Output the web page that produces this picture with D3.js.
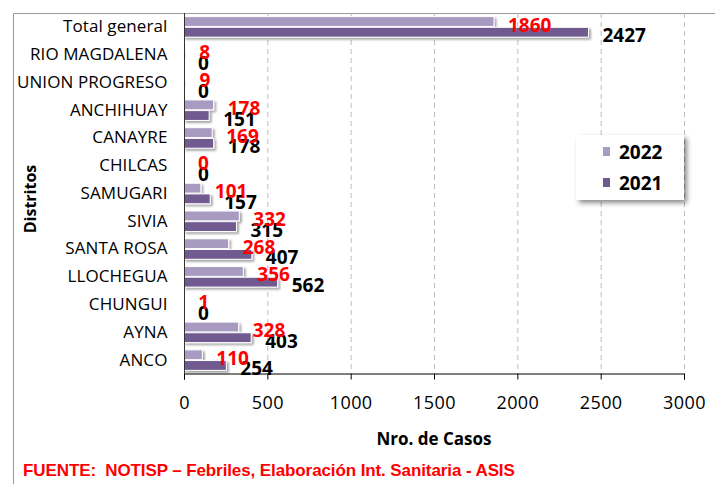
<!DOCTYPE html>
<html><head><meta charset="utf-8">
<script src="https://cdnjs.cloudflare.com/ajax/libs/d3/7.8.5/d3.min.js"></script>
<style>body{margin:0;background:#fff}svg{display:block}</style>
</head><body>
<script>
const categories = ["Total general","RIO MAGDALENA","UNION PROGRESO","ANCHIHUAY","CANAYRE","CHILCAS","SAMUGARI","SIVIA","SANTA ROSA","LLOCHEGUA","CHUNGUI","AYNA","ANCO"];
const values2022 = [1860,8,9,178,169,0,101,332,268,356,1,328,110];
const values2021 = [2427,0,0,151,178,0,157,315,407,562,0,403,254];
const seriesNames = ["2022","2021"];
const xTicks = [0,500,1000,1500,2000,2500,3000];
const xTitle = "Nro. de Casos";
const yTitle = "Distritos";
const footer = "FUENTE:  NOTISP \u2013 Febriles, Elaboración Int. Sanitaria - ASIS";

const W = 715, H = 484;
const colors = {"2022":"#A89AC1","2021":"#6F5A8F"};
const labelColors = {"2022":"#FF0000","2021":"#000000"};
const svg = d3.select("body").append("svg").attr("width",W).attr("height",H);

const defs = svg.append("defs");
const f = defs.append("filter").attr("id","sh").attr("x","-20%").attr("y","-50%").attr("width","140%").attr("height","200%");
f.append("feDropShadow").attr("dx",2).attr("dy",2).attr("stdDeviation",1.2).attr("flood-color","#000").attr("flood-opacity",0.35);
const f2 = defs.append("filter").attr("id","sh2").attr("x","-20%").attr("y","-20%").attr("width","150%").attr("height","150%");
f2.append("feDropShadow").attr("dx",3).attr("dy",3).attr("stdDeviation",2.5).attr("flood-color","#000").attr("flood-opacity",0.45);

// outer frame
svg.append("path").attr("d",`M13.5,${H} V13.5 H${W}`).attr("fill","none").attr("stroke","#9a9a9a").attr("stroke-width",1);

const x = d3.scaleLinear().domain([0,3000]).range([184,684]);
const y = d3.scaleBand().domain(categories).range([13,374]).paddingInner(0.2).paddingOuter(0.1);
const ys = d3.scaleBand().domain(seriesNames).range([0,y.bandwidth()]).padding(0.08);

// gridlines
svg.append("g").selectAll("line").data(xTicks.slice(1)).join("line")
  .attr("x1",d=>x(d)+0.5).attr("x2",d=>x(d)+0.5).attr("y1",13).attr("y2",373)
  .attr("stroke","#BDBDBD").attr("stroke-width",1).attr("stroke-dasharray","5,4");

const rows = categories.map((c,i)=>({c, v:{"2022":values2022[i],"2021":values2021[i]}}));

// bars
const gb = svg.append("g");
seriesNames.forEach(s=>{
  gb.selectAll(null).data(rows).join("rect")
    .attr("x",x(0)).attr("y",d=>y(d.c)+ys(s))
    .attr("width",d=>Math.max(0,x(d.v[s])-x(0))).attr("height",ys.bandwidth())
    .attr("fill",colors[s]).attr("stroke","#fff").attr("stroke-width",1)
    .attr("filter","url(#sh)");
});

// axes
const xAxis = d3.axisBottom(x).tickValues(xTicks).tickSize(6).tickPadding(17).tickFormat(d3.format("d"));
const gx = svg.append("g").attr("transform","translate(0,373.5)").call(xAxis);
gx.select(".domain").attr("stroke","#000");
gx.selectAll(".tick line").attr("stroke","#000");
gx.selectAll("text").attr("font-family","'Open Sans'").attr("font-size",18).attr("letter-spacing",0.4).attr("fill","#000");

const yAxis = d3.axisLeft(y).tickSize(0).tickPadding(17);
const gy = svg.append("g").attr("transform","translate(184.5,0)").call(yAxis);
gy.select(".domain").attr("stroke","#333").attr("d","M0,13V374");
gy.selectAll("text").attr("font-family","'Open Sans'").attr("font-size",17).attr("letter-spacing",0.1).attr("fill","#000");

// data labels
const gl = svg.append("g").attr("font-family","'Open Sans'").attr("font-weight","bold").attr("font-size",19);
["2021","2022"].forEach(s=>{
  gl.selectAll(null).data(rows).join("text")
    .attr("x",d=>x(d.v[s])+14)
    .attr("y",d=>y(d.c)+ys(s)+ys.bandwidth()/2+3)
    .attr("dominant-baseline","central")
    .attr("fill",labelColors[s]).text(d=>d.v[s]);
});

// titles
svg.append("text").attr("x",434).attr("y",438).attr("text-anchor","middle").attr("dominant-baseline","central")
  .attr("font-family","'Open Sans'").attr("font-weight","bold").attr("font-size",17).text(xTitle);
svg.append("text").attr("transform","translate(30,199) rotate(-90)").attr("text-anchor","middle").attr("dominant-baseline","central")
  .attr("font-family","'Open Sans'").attr("font-weight","bold").attr("font-size",16).text(yTitle);

// legend
const lg = svg.append("g");
lg.append("rect").attr("x",576).attr("y",135).attr("width",108).attr("height",65).attr("fill","#fff").attr("filter","url(#sh2)");
seriesNames.forEach((s,i)=>{
  const cy = 152 + i*31;
  lg.append("rect").attr("x",603).attr("y",cy-5).attr("width",7).attr("height",9).attr("fill",colors[s]);
  lg.append("text").attr("x",619).attr("y",cy).attr("dominant-baseline","central")
    .attr("font-family","'Open Sans'").attr("font-weight","bold").attr("font-size",19).text(s);
});

// footer
svg.append("text").attr("x",23).attr("y",470).attr("dominant-baseline","central")
  .attr("font-family","'Liberation Sans'").attr("font-weight","bold").attr("font-size",17).attr("fill","#FF0000")
  .attr("letter-spacing",-0.1).style("white-space","pre").text(footer);
</script>
</body></html>
